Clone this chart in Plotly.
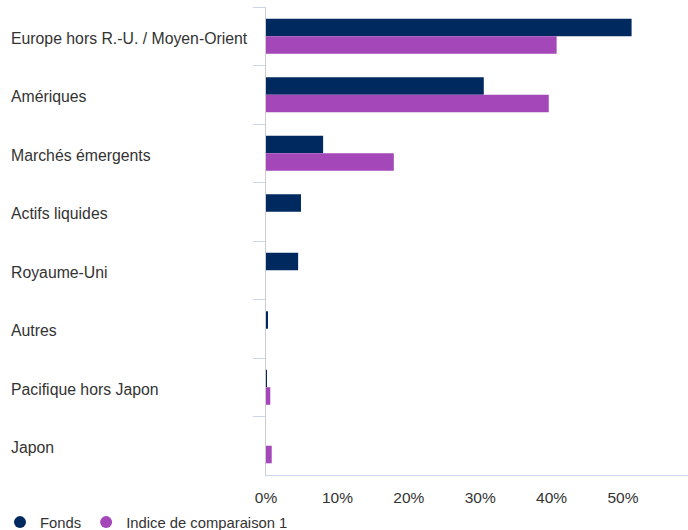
import plotly.graph_objects as go

categories = ["Europe hors R.-U. / Moyen-Orient", "Amériques", "Marchés émergents",
              "Actifs liquides", "Royaume-Uni", "Autres", "Pacifique hors Japon", "Japon"]
fonds = [51.2, 30.5, 8.0, 4.9, 4.5, 0.2, 0.1, None]
indice = [40.7, 39.6, 17.9, None, None, None, 0.6, 0.8]
x_ticks = [0, 10, 20, 30, 40, 50]
x_tick_labels = ["0%", "10%", "20%", "30%", "40%", "50%"]

navy = "#002a5f"
purple = "#a347b9"

fig = go.Figure()
fig.add_trace(go.Bar(y=categories, x=fonds, orientation="h", name="Fonds",
                     marker=dict(color=navy, line=dict(width=0)), showlegend=False))
fig.add_trace(go.Bar(y=categories, x=indice, orientation="h", name="Indice de comparaison 1",
                     marker=dict(color=purple, line=dict(width=0)), showlegend=False))
# legend entries with circle symbols
fig.add_trace(go.Scatter(x=[None], y=[None], mode="markers", name="Fonds",
                         marker=dict(color=navy, size=12, symbol="circle")))
fig.add_trace(go.Scatter(x=[None], y=[None], mode="markers", name="Indice de comparaison 1",
                         marker=dict(color=purple, size=12, symbol="circle")))

for c in categories:
    fig.add_annotation(text=c, xref="paper", x=-266/422 + 9/422, xanchor="left",
                       yref="y", y=c, yshift=-2, showarrow=False,
                       font=dict(size=15.8, color="#333333"))

fig.update_layout(
    width=688, height=530,
    margin=dict(l=266, r=0, t=7, b=55),
    barmode="group", bargap=0.4, bargroupgap=0,
    plot_bgcolor="white", paper_bgcolor="white",
    font=dict(family="Liberation Sans, Arial, sans-serif", size=14, color="#333333"),
    xaxis=dict(range=[0, 59.1], tickvals=x_ticks, ticktext=x_tick_labels,
               showgrid=False, zeroline=False, showline=True, linecolor="#ccd6eb",
               linewidth=1, ticks="", ticklabelstandoff=8, automargin=False,
               tickfont=dict(size=15.5, color="#333333")),
    yaxis=dict(autorange="reversed", type="category", showticklabels=False,
               showgrid=False, zeroline=False, showline=True, linecolor="#cccccc",
               linewidth=1, ticks="outside", tickson="boundaries", ticklen=12,
               tickcolor="#ccd6eb", tickwidth=1, automargin=False),
    legend=dict(orientation="h", xref="container", yref="container",
                x=0, xanchor="left", y=7.5/530, yanchor="middle",
                font=dict(size=14.8, color="#333333"), itemwidth=30,
                bgcolor="rgba(0,0,0,0)"),
)

fig.write_html("out.html")
